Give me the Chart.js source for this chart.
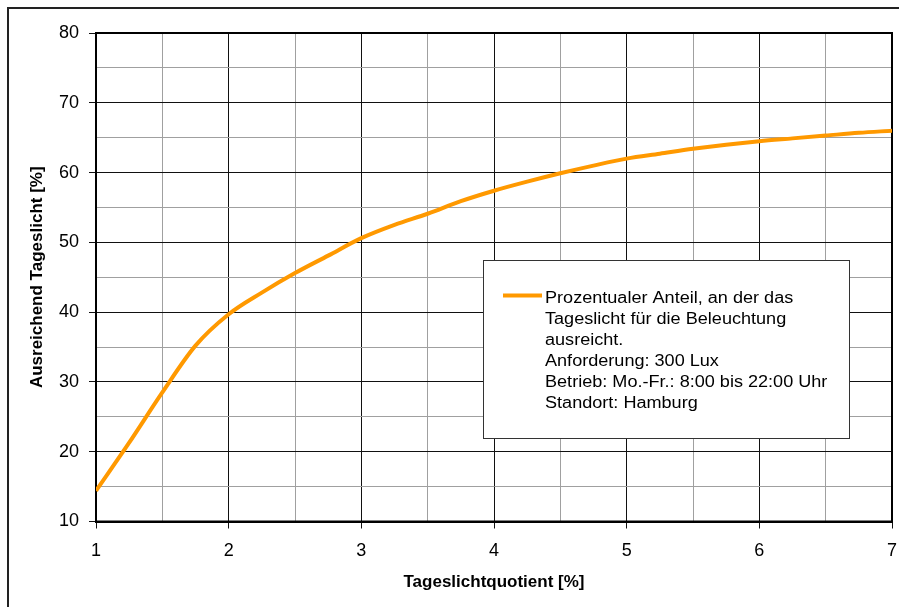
<!DOCTYPE html>
<html>
<head>
<meta charset="utf-8">
<script src="https://cdn.jsdelivr.net/npm/chart.js@4/dist/chart.umd.min.js"></script>
<style>
  html, body { margin: 0; padding: 0; background: #fff; }
  #wrap { width: 899px; height: 607px; }
</style>
</head>
<body>
<div id="wrap"><canvas id="c" width="899" height="607"></canvas></div>
<script>
// Tageslichtquotient [%] (x) against share of hours with enough daylight [%] (y)
const quotient = [1.0, 1.25, 1.5, 1.75, 2.0, 2.25, 2.5, 2.75, 3.0, 3.25, 3.5, 3.75, 4.0,
                  4.25, 4.5, 4.75, 5.0, 5.25, 5.5, 5.75, 6.0, 6.25, 6.5, 6.75, 7.0];
const ausreichend = [14.4, 21.3, 28.5, 35.2, 39.7, 42.8, 45.6, 48.1, 50.6, 52.5, 54.1, 55.9, 57.4,
                     58.7, 59.9, 61.0, 62.0, 62.7, 63.4, 64.0, 64.5, 64.9, 65.3, 65.7, 66.0];

const legendLines = [
  'Prozentualer Anteil, an der das',
  'Tageslicht für die Beleuchtung',
  'ausreicht.',
  'Anforderung: 300 Lux',
  'Betrieb: Mo.-Fr.: 8:00 bis 22:00 Uhr',
  'Standort: Hamburg'
];
const xTitle = 'Tageslichtquotient [%]';
const yTitle = 'Ausreichend Tageslicht [%]';

const FONT = '"Liberation Sans", Arial, sans-serif';
const LINE_COLOR = '#FF9900';

// outer frame and white background, plus the plot-area border
const framePlugin = {
  id: 'frame',
  beforeDraw(chart) {
    const ctx = chart.ctx;
    ctx.save();
    ctx.fillStyle = '#fff';
    ctx.fillRect(0, 0, chart.width, chart.height);
    ctx.strokeStyle = '#222';
    ctx.lineWidth = 2;
    ctx.strokeRect(8, 8, chart.width + 20, chart.height + 20);
    ctx.restore();
  },
  beforeDatasetsDraw(chart) {
    const a = chart.chartArea, ctx = chart.ctx;
    ctx.save();
    ctx.strokeStyle = '#000';
    ctx.lineWidth = 2;
    ctx.strokeRect(a.left, a.top, a.right - a.left, a.bottom - a.top);
    ctx.restore();
  }
};

// boxed legend inside the plot area
const boxLegend = {
  id: 'boxLegend',
  afterDatasetsDraw(chart) {
    const a = chart.chartArea, ctx = chart.ctx;
    const bx = a.left + 387, by = a.top + 227, bw = 366, bh = 178;
    ctx.save();
    ctx.fillStyle = '#fff';
    ctx.fillRect(bx, by, bw, bh);
    ctx.strokeStyle = '#333';
    ctx.lineWidth = 1;
    ctx.strokeRect(bx + 0.5, by + 0.5, bw, bh);
    ctx.strokeStyle = LINE_COLOR;
    ctx.lineWidth = 4;
    ctx.beginPath();
    ctx.moveTo(bx + 20, by + 35.5);
    ctx.lineTo(bx + 59, by + 35.5);
    ctx.stroke();
    ctx.fillStyle = '#000';
    ctx.font = '16px ' + FONT;
    ctx.textBaseline = 'alphabetic';
    ctx.textAlign = 'left';
    legendLines.forEach((t, i) => {
      ctx.save();
      ctx.translate(bx + 62, by + 42.5 + i * 21.1);
      ctx.scale(1.13, 1);
      ctx.fillText(t, 0, 0);
      ctx.restore();
    });
    ctx.restore();
  }
};

new Chart(document.getElementById('c'), {
  type: 'line',
  data: {
    datasets: [{
      label: legendLines.join(' '),
      data: quotient.map((x, i) => ({ x: x, y: ausreichend[i] })),
      borderColor: LINE_COLOR,
      borderWidth: 4,
      pointRadius: 0,
      cubicInterpolationMode: 'monotone',
      fill: false
    }]
  },
  options: {
    responsive: false,
    animation: false,
    layout: { padding: { top: 33, right: 7, left: 0, bottom: 0 } },
    plugins: { legend: { display: false }, tooltip: { enabled: false } },
    scales: {
      x: {
        type: 'linear',
        min: 1, max: 7,
        afterFit(s) { s.height = 85.5; s.paddingLeft = 0; s.paddingRight = 0; },
        ticks: {
          stepSize: 0.5,
          autoSkip: false,
          maxRotation: 0,
          padding: 12,
          color: '#000',
          font: { family: FONT, size: 18 },
          callback: v => Number.isInteger(v) ? String(v) : ''
        },
        grid: {
          color: c => Number.isInteger(c.tick.value) ? '#111' : '#a0a0a0',
          tickColor: c => Number.isInteger(c.tick.value) ? '#111' : 'rgba(0,0,0,0)',
          tickLength: 7,
          lineWidth: 1
        },
        border: { display: true, color: '#000', width: 2 },
        title: {
          display: true,
          text: xTitle,
          color: '#000',
          font: { family: FONT, size: 17, weight: 'bold' },
          padding: { top: 0, bottom: 14 }
        }
      },
      y: {
        min: 10, max: 80,
        afterFit(s) { s.width = 96; s.paddingTop = 0; s.paddingBottom = 0; },
        ticks: {
          stepSize: 5,
          autoSkip: false,
          padding: 10,
          color: '#000',
          font: { family: FONT, size: 18 },
          callback: v => v % 10 === 0 ? String(v) : ''
        },
        grid: {
          color: c => c.tick.value % 10 === 0 ? '#111' : '#a0a0a0',
          tickColor: c => c.tick.value % 10 === 0 ? '#111' : 'rgba(0,0,0,0)',
          tickLength: 7,
          lineWidth: 1
        },
        border: { display: true, color: '#000', width: 2 },
        title: {
          display: true,
          text: yTitle,
          color: '#000',
          font: { family: FONT, size: 17, weight: 'bold' },
          padding: { top: 27, bottom: 0 }
        }
      }
    }
  },
  plugins: [framePlugin, boxLegend]
});
</script>
</body>
</html>
